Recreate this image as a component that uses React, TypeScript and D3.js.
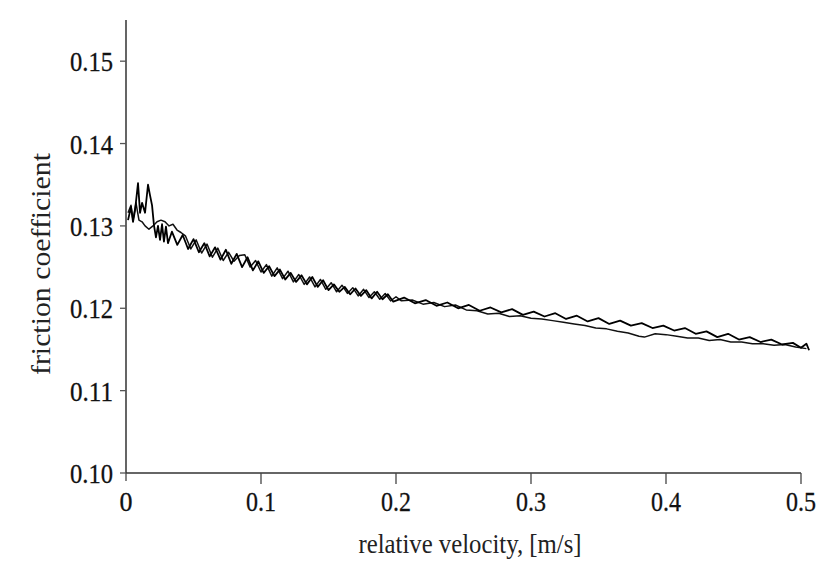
import React from "react";
import * as d3 from "d3";

// relative velocity [m/s], friction coefficient
const seriesA: [number, number][] = [
  [0.0015, 0.1307], [0.0037, 0.1323], [0.0052, 0.1305], [0.0067, 0.1319], [0.0089, 0.1352],
  [0.0104, 0.1316], [0.0119, 0.1328], [0.0141, 0.1316], [0.0163, 0.135], [0.0178, 0.1337],
  [0.0193, 0.1325], [0.0207, 0.1301], [0.0222, 0.1286], [0.0237, 0.13], [0.0252, 0.1283],
  [0.0267, 0.1302], [0.0281, 0.1281], [0.0296, 0.1299], [0.0311, 0.1279],
  [0.034, 0.1293], [0.038, 0.1277], [0.042, 0.1289], [0.046, 0.1272], [0.05, 0.1284],
  [0.054, 0.1268], [0.058, 0.1279], [0.062, 0.1263], [0.066, 0.1274], [0.07, 0.1259],
  [0.074, 0.1271], [0.078, 0.1254], [0.082, 0.1266], [0.086, 0.125], [0.09, 0.1262],
  [0.094, 0.1246], [0.098, 0.1257], [0.102, 0.1243], [0.106, 0.1251], [0.11, 0.1239],
  [0.114, 0.1247], [0.118, 0.1235], [0.122, 0.1243], [0.126, 0.1232], [0.13, 0.124],
  [0.134, 0.1229], [0.138, 0.1238], [0.142, 0.1226], [0.146, 0.1234], [0.15, 0.1222],
  [0.154, 0.1229], [0.158, 0.122], [0.162, 0.1226], [0.166, 0.1217], [0.17, 0.1224],
  [0.174, 0.1215], [0.178, 0.1222], [0.182, 0.1212], [0.186, 0.122], [0.19, 0.1211],
  [0.194, 0.1217], [0.198, 0.1208],
  [0.206, 0.1213], [0.214, 0.1206], [0.222, 0.121], [0.23, 0.1203], [0.238, 0.1207],
  [0.246, 0.12], [0.254, 0.1204], [0.262, 0.1197], [0.27, 0.1201], [0.278, 0.1195],
  [0.286, 0.1199], [0.294, 0.1192], [0.302, 0.1196], [0.31, 0.119], [0.318, 0.1194],
  [0.326, 0.1187], [0.334, 0.1191], [0.342, 0.1184], [0.35, 0.1188], [0.358, 0.1181],
  [0.366, 0.1185], [0.374, 0.1179], [0.382, 0.1182], [0.39, 0.1176], [0.398, 0.1179],
  [0.406, 0.1173], [0.414, 0.1176], [0.422, 0.1169], [0.43, 0.1172], [0.438, 0.1165],
  [0.446, 0.1169], [0.454, 0.1162], [0.462, 0.1165], [0.47, 0.1159], [0.478, 0.1162],
  [0.486, 0.1156], [0.494, 0.1158], [0.5, 0.1152], [0.504, 0.1157], [0.506, 0.1149],
];

const seriesB: [number, number][] = [
  [0.0015, 0.1316], [0.0037, 0.1325], [0.0052, 0.1307], [0.0074, 0.1328], [0.0096, 0.1307],
  [0.0119, 0.1305], [0.0141, 0.13], [0.017, 0.1296], [0.02, 0.13], [0.023, 0.1305],
  [0.0259, 0.1307], [0.0289, 0.1305], [0.0319, 0.13], [0.0348, 0.1302], [0.0378, 0.1295],
  [0.0407, 0.1292],
  [0.044, 0.1288], [0.048, 0.1272], [0.052, 0.1283], [0.056, 0.1267], [0.06, 0.1278],
  [0.064, 0.1262], [0.068, 0.1273], [0.072, 0.1258], [0.076, 0.1268], [0.08, 0.1257],
  [0.084, 0.1264], [0.088, 0.1265], [0.092, 0.125], [0.096, 0.1258], [0.1, 0.1244],
  [0.104, 0.1253], [0.108, 0.1239], [0.112, 0.1249], [0.116, 0.1236], [0.12, 0.1245],
  [0.124, 0.1232], [0.128, 0.1241], [0.132, 0.1229], [0.136, 0.1238], [0.14, 0.1226],
  [0.144, 0.1235], [0.148, 0.1223], [0.152, 0.1231], [0.156, 0.122], [0.16, 0.1228],
  [0.164, 0.1218], [0.168, 0.1225], [0.172, 0.1215], [0.176, 0.1223], [0.18, 0.1213],
  [0.184, 0.122], [0.188, 0.1211], [0.192, 0.1218], [0.196, 0.1209], [0.2, 0.1214],
  [0.204, 0.1209], [0.212, 0.121], [0.22, 0.1205], [0.228, 0.1207], [0.236, 0.1202],
  [0.244, 0.1204], [0.252, 0.1198], [0.26, 0.1197], [0.268, 0.1193], [0.276, 0.1194],
  [0.284, 0.119], [0.292, 0.1191], [0.3, 0.1188], [0.308, 0.1187], [0.316, 0.1185],
  [0.324, 0.1183], [0.332, 0.1181], [0.34, 0.1179], [0.348, 0.1176], [0.356, 0.1175],
  [0.364, 0.1172], [0.372, 0.117], [0.38, 0.1166], [0.384, 0.1165], [0.392, 0.1169],
  [0.4, 0.1168], [0.408, 0.1166], [0.416, 0.1164], [0.424, 0.1164], [0.432, 0.1161],
  [0.44, 0.1162], [0.448, 0.1159], [0.456, 0.1159], [0.464, 0.1157], [0.472, 0.1157],
  [0.48, 0.1155], [0.488, 0.1156], [0.496, 0.1153], [0.504, 0.1151],
];

const xTicks = [0, 0.1, 0.2, 0.3, 0.4, 0.5];
const xTickLabels = ["0", "0.1", "0.2", "0.3", "0.4", "0.5"];
const yTicks = [0.1, 0.11, 0.12, 0.13, 0.14, 0.15];
const yTickLabels = ["0.10", "0.11", "0.12", "0.13", "0.14", "0.15"];

const W = 833;
const H = 565;
const FONT = "Liberation Serif, Tinos, Times New Roman, serif";

export default function App() {
  const x = d3.scaleLinear().domain([0, 0.5]).range([126, 801]);
  const y = d3.scaleLinear().domain([0.1, 0.155]).range([473, 20]);
  const line = d3
    .line<[number, number]>()
    .x((d) => x(d[0]))
    .y((d) => y(d[1]));

  const textStyle = { fontFamily: FONT };
  const FS = 28;

  return (
    <svg
      width={W}
      height={H}
      style={{ position: "absolute", left: 0, top: 0, background: "#fff", fontFamily: FONT }}
    >
      <rect x={0} y={0} width={W} height={H} fill="#fff" />
      {/* curves */}
      <path d={line(seriesB) || ""} fill="none" stroke="#111" strokeWidth={1.5} strokeLinejoin="round" />
      <path d={line(seriesA) || ""} fill="none" stroke="#000" strokeWidth={1.8} strokeLinejoin="round" />

      {/* y axis */}
      <line x1={x(0)} x2={x(0)} y1={y(0.155)} y2={y(0.1)} stroke="#555" strokeWidth={1.8} />
      {yTicks.map((t, i) => (
        <g key={"yt" + i}>
          <line x1={x(0) - 6} x2={x(0)} y1={y(t)} y2={y(t)} stroke="#555" strokeWidth={1.3} />
          <text
            x={113}
            y={y(t) + 10}
            textAnchor="end"
            fontSize={FS}
            textLength={43}
            lengthAdjust="spacingAndGlyphs"
            fill="#111"
            stroke="#111"
            strokeWidth={0.3}
            style={textStyle}
          >
            {yTickLabels[i]}
          </text>
        </g>
      ))}

      {/* x axis */}
      <line x1={x(0)} x2={x(0.5)} y1={y(0.1)} y2={y(0.1)} stroke="#333" strokeWidth={1.6} />
      {xTicks.map((t, i) => (
        <g key={"xt" + i}>
          <line x1={x(t)} x2={x(t)} y1={y(0.1)} y2={y(0.1) + (i === 0 ? 8 : 11)} stroke="#444" strokeWidth={1.3} />
          <text
            x={x(t)}
            y={511}
            textAnchor="middle"
            fontSize={FS}
            textLength={xTickLabels[i].length === 1 ? 13 : 30}
            lengthAdjust="spacingAndGlyphs"
            fill="#111"
            stroke="#111"
            strokeWidth={0.3}
            style={textStyle}
          >
            {xTickLabels[i]}
          </text>
        </g>
      ))}

      {/* axis titles */}
      <text
        x={470}
        y={553}
        textAnchor="middle"
        fontSize={FS}
        textLength={223}
        lengthAdjust="spacingAndGlyphs"
        fill="#222"
        style={textStyle}
      >
        relative velocity, [m/s]
      </text>
      <text
        transform={`translate(50, 264) rotate(-90)`}
        textAnchor="middle"
        fontSize={FS}
        textLength={222}
        lengthAdjust="spacingAndGlyphs"
        fill="#222"
        style={textStyle}
      >
        friction coefficient
      </text>
    </svg>
  );
}
